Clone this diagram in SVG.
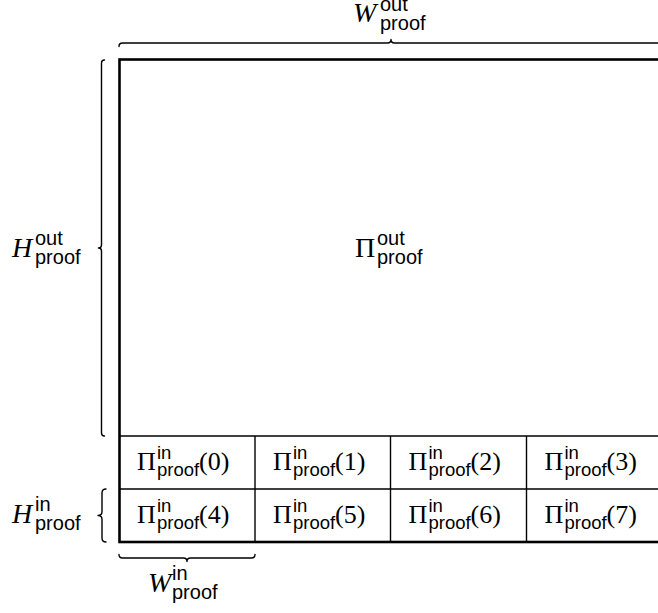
<svg xmlns="http://www.w3.org/2000/svg" width="658" height="613" viewBox="0 0 658 613">
<style>
.m{font-family:"Liberation Serif","DejaVu Serif",serif;font-size:26px;fill:#000}
.L{font-size:28px}
.i{font-style:italic;font-size:28px}
.s{font-family:"Liberation Sans","DejaVu Sans",sans-serif;font-size:18.5px;fill:#000}
.S{font-size:20px}
.thick{fill:none;stroke:#000;stroke-width:2.6}
.thin{fill:none;stroke:#000;stroke-width:1.4}
.brace{fill:none;stroke:#000;stroke-width:1.4;stroke-linecap:round;stroke-linejoin:round}
</style>
<rect width="658" height="613" fill="#fff"/>
<g id="grid">
<line class="thin" x1="119.5" y1="436" x2="663" y2="436"/>
<line class="thin" x1="119.5" y1="489" x2="663" y2="489"/>
<line class="thin" x1="255" y1="436" x2="255" y2="542"/>
<line class="thin" x1="390.5" y1="436" x2="390.5" y2="542"/>
<line class="thin" x1="526.5" y1="436" x2="526.5" y2="542"/>
<rect class="thick" x="119.5" y="59.5" width="544" height="482.5"/>
</g>
<g id="out">
<text class="m L" x="355" y="257">Π</text><text class="s S" x="377" y="245">out</text><text class="s S" x="377" y="264">proof</text>
</g>
<g id="cell0"><text class="m" x="137" y="470">Π</text><text class="s" x="157" y="459">in</text><text class="s" x="157" y="476">proof</text><text class="m" x="199" y="470">(0)</text></g>
<g id="cell1"><text class="m" x="273" y="470">Π</text><text class="s" x="293" y="459">in</text><text class="s" x="293" y="476">proof</text><text class="m" x="335" y="470">(1)</text></g>
<g id="cell2"><text class="m" x="408.5" y="470">Π</text><text class="s" x="428.5" y="459">in</text><text class="s" x="428.5" y="476">proof</text><text class="m" x="470.5" y="470">(2)</text></g>
<g id="cell3"><text class="m" x="544.5" y="470">Π</text><text class="s" x="564.5" y="459">in</text><text class="s" x="564.5" y="476">proof</text><text class="m" x="606.5" y="470">(3)</text></g>
<g id="cell4"><text class="m" x="137" y="523">Π</text><text class="s" x="157" y="512">in</text><text class="s" x="157" y="529">proof</text><text class="m" x="199" y="523">(4)</text></g>
<g id="cell5"><text class="m" x="273" y="523">Π</text><text class="s" x="293" y="512">in</text><text class="s" x="293" y="529">proof</text><text class="m" x="335" y="523">(5)</text></g>
<g id="cell6"><text class="m" x="408.5" y="523">Π</text><text class="s" x="428.5" y="512">in</text><text class="s" x="428.5" y="529">proof</text><text class="m" x="470.5" y="523">(6)</text></g>
<g id="cell7"><text class="m" x="544.5" y="523">Π</text><text class="s" x="564.5" y="512">in</text><text class="s" x="564.5" y="529">proof</text><text class="m" x="606.5" y="523">(7)</text></g>
<g id="braces">
<path class="brace" d="M119,46.5 Q119,43 122.5,43 H387.5 Q391,43 391,39.5 Q391,43 394.5,43 H659.5 Q663,43 663,46.5"/>
<path class="brace" d="M104.5,60 Q101.5,60 101.5,63 V245 Q101.5,248 98.5,248 Q101.5,248 101.5,251 V433 Q101.5,436 104.5,436"/>
<path class="brace" d="M106,489 Q102,489 102,493 V511.5 Q102,515.5 98,515.5 Q102,515.5 102,519.5 V538 Q102,542 106,542"/>
<path class="brace" d="M119,554.5 Q119,558 122.5,558 H183.5 Q187,558 187,561.5 Q187,558 190.5,558 H251.5 Q255,558 255,554.5"/>
</g>
<g id="wout"><text class="m i" x="353" y="22">W</text><text class="s S" x="380" y="11">out</text><text class="s S" x="380" y="30">proof</text></g>
<g id="hout"><text class="m i" x="12" y="257">H</text><text class="s S" x="35" y="245">out</text><text class="s S" x="35" y="264">proof</text></g>
<g id="hin"><text class="m i" x="12" y="523">H</text><text class="s S" x="35" y="511">in</text><text class="s S" x="35" y="530">proof</text></g>
<g id="win"><text class="m i" x="148" y="592">W</text><text class="s S" x="172" y="580">in</text><text class="s S" x="172" y="599">proof</text></g>
</svg>
